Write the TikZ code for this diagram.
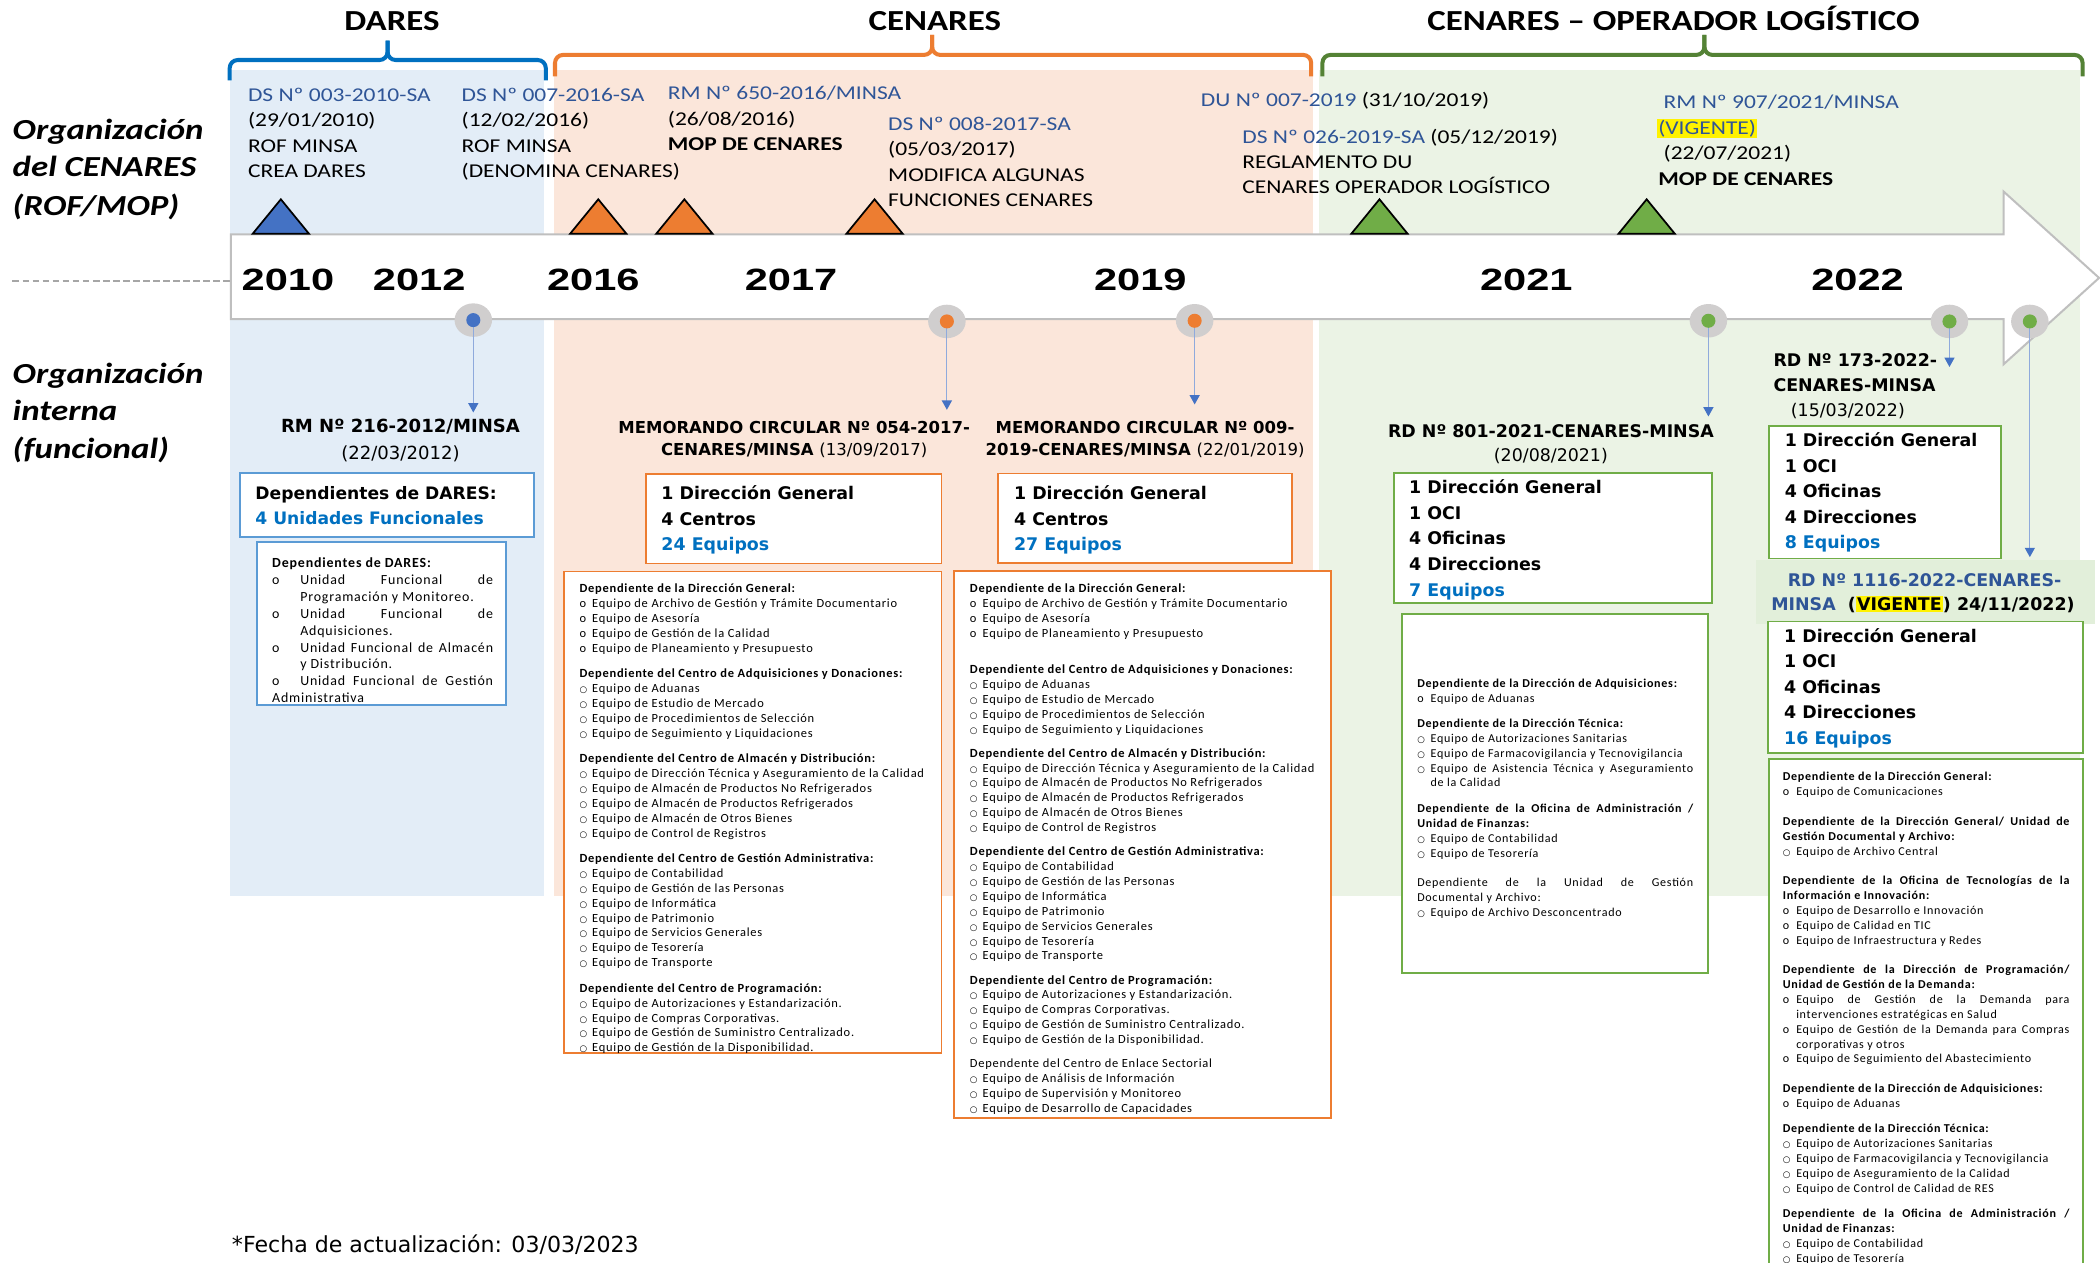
\documentclass[tikz,border=0pt]{standalone}
\usepackage{fontspec}
\setmainfont{Carlito}
\newfontfamily\calf[FakeStretch=1.2]{Carlito}
\newfontfamily\lstf[LetterSpace=6]{Carlito}
\newfontfamily\verd{DejaVu Sans}
\newfontfamily\yrf[FakeStretch=1.35]{Liberation Sans}
\usetikzlibrary{arrows.meta,shapes.geometric}
\definecolor{bluebg}{HTML}{E3EDF7}
\definecolor{orbg}{HTML}{FBE6DA}
\definecolor{grbg}{HTML}{EBF3E5}
\definecolor{grband}{HTML}{E2EFDA}
\definecolor{docblue}{HTML}{2F5597}
\definecolor{eqblue}{HTML}{0070C0}
\definecolor{bxblue}{HTML}{5B9BD5}
\definecolor{myor}{HTML}{ED7D31}
\definecolor{mygr}{HTML}{70AD47}
\definecolor{brgr}{HTML}{548235}
\definecolor{brbl}{HTML}{0070C0}
\definecolor{triblue}{HTML}{4472C4}
\definecolor{tlgray}{HTML}{BFBFBF}
\definecolor{gcirc}{HTML}{D0CECE}
\definecolor{arrline}{HTML}{8FAADC}
\definecolor{dashgray}{HTML}{A6A6A6}
\tolerance=9999 \emergencystretch=20pt \hyphenpenalty=10000 \exhyphenpenalty=10000 \hbadness=10000
\newlength\bulw
\newcommand\hdr[1]{\par\noindent\strut\textbf{#1}}
\newcommand\hdrn[1]{\par\noindent\strut #1}
\newcommand\itm[2]{\par\hangindent=\bulw\hangafter=1\noindent\strut\makebox[\bulw][l]{#1}#2}
\newcommand\gp[1]{\par\vspace{#1}}
\newcommand\bo{o}
\newcommand\bc{{\verd\fontsize{6.5}{6.5}\selectfont\char"25CB}}
\setlength\fboxsep{1pt}
\begin{document}
\begin{tikzpicture}[x=1pt,y=-1pt,
 ttl/.style={font=\calf\bfseries\fontsize{21.7}{24}\selectfont, anchor=base, inner sep=0pt},
 lab/.style={font=\calf\bfseries\itshape\fontsize{21.7}{24}\selectfont, anchor=base west, inner sep=0pt},
 legal/.style={font=\calf\fontsize{14.6}{19}\selectfont, anchor=base west, inner sep=0pt},
 yearlab/.style={font=\yrf\bfseries\fontsize{23}{25}\selectfont, anchor=base, inner sep=0pt},
 rt/.style={font=\verd\bfseries\fontsize{13}{15}\selectfont, anchor=base, inner sep=0pt},
 rtw/.style={font=\verd\bfseries\fontsize{13}{15}\selectfont, anchor=base west, inner sep=0pt},
 bx/.style={font=\verd\bfseries\fontsize{13}{15}\selectfont, anchor=base west, inner sep=0pt},
 lstbox/.style={anchor=north west, inner sep=0pt, align=justify, font=\lstf\fontsize{9}{11.1}\selectfont},
 tri/.style={draw=black, line width=1.3pt, line join=miter},
 gcircle/.style={ellipse, fill=gcirc, minimum width=28pt, minimum height=25pt, inner sep=0pt},
 dotnode/.style={circle, minimum size=10.5pt, inner sep=0pt},
 conn/.style={draw=arrline, line width=0.9pt, -{Triangle[width=7.5pt,length=7pt,color=triblue]}},
 bracepath/.style={line width=3pt, rounded corners=6pt},
 boxframe/.style={fill=white, line width=1.4pt}]
\useasboundingbox (0,0) rectangle (1568,943);
\fill[white] (0,0) rectangle (1568,943);
% backgrounds
\fill[bluebg] (171.8,52.3) rectangle (406,669);
\fill[orbg] (413.5,52.3) rectangle (980.6,669);
\fill[grbg] (985,52.3) rectangle (1553,669);
% braces
\draw[bracepath, brbl] (171.5,60) -- (171.5,44.8) -- (289.4,44.8) -- (289.4,30.4);
\draw[bracepath, brbl] (289.4,30.4) -- (289.4,44.8) -- (407.5,44.8) -- (407.5,60);
\draw[bracepath, myor] (414.4,57) -- (414.4,41) -- (696,41) -- (696,26);
\draw[bracepath, myor] (696,26) -- (696,41) -- (979,41) -- (979,57);
\draw[bracepath, brgr] (987.4,57) -- (987.4,41) -- (1272.6,41) -- (1272.6,26);
\draw[bracepath, brgr] (1272.6,26) -- (1272.6,41) -- (1555,41) -- (1555,57);
\node[ttl] (tdares) at (292.7,22.8) {DARES};
\node[ttl] (tcenares) at (698,22.8) {CENARES};
\node[ttl] (tcol) at (1249.5,22.8) {CENARES – OPERADOR LOGÍSTICO};
% left labels
\node[lab] (la1) at (9.3,104) {Organización};
\node[lab] (la2) at (9.3,132) {del CENARES};
\node[lab] (la3) at (9.3,161) {(ROF/MOP)};
\node[lab] (lb1) at (9.3,286) {Organización};
\node[lab] (lb2) at (9.3,314) {interna};
\node[lab] (lb3) at (9.3,342) {(funcional)};
% dashed line
\coordinate (ds0) at (9.3,210);
\coordinate (ds1) at (172.4,210);
\draw[dashgray, line width=1.3pt, dash pattern=on 5pt off 2.5pt] (ds0) -- (ds1);
% timeline arrow
\draw[tlgray, fill=white, line width=1.5pt] (172.4,175) -- (1496,175) -- (1496,143) -- (1567.3,207.5) -- (1496,272) -- (1496,238.3) -- (172.4,238.3) -- cycle;
% triangles
\draw[tri, fill=triblue] (188.7,174.5) -- (230.7,174.5) -- (209.7,148.8) -- cycle;
\draw[tri, fill=myor] (425.7,174.5) -- (467.7,174.5) -- (446.7,148.8) -- cycle;
\draw[tri, fill=myor] (490,174.5) -- (532,174.5) -- (511,148.8) -- cycle;
\draw[tri, fill=myor] (632,174.5) -- (674,174.5) -- (653,148.8) -- cycle;
\draw[tri, fill=mygr] (1009,174.5) -- (1051,174.5) -- (1030,148.8) -- cycle;
\draw[tri, fill=mygr] (1208.5,174.5) -- (1250.5,174.5) -- (1229.5,148.8) -- cycle;
% years
\node[yearlab] (y2010) at (215,217.2) {2010};
\node[yearlab] (y2012) at (313,217.2) {2012};
\node[yearlab] (y2016) at (443,217.2) {2016};
\node[yearlab] (y2017) at (590.7,217.2) {2017};
\node[yearlab] (y2019) at (851.4,217.2) {2019};
\node[yearlab] (y2021) at (1139.6,217.2) {2021};
\node[yearlab] (y2022) at (1387,217.2) {2022};
% circles and connectors
\node[gcircle] (c1) at (353.4,239) {};
\node[gcircle] (c2) at (707,240) {};
\node[gcircle] (c3) at (892,239.5) {};
\node[gcircle] (c4) at (1275.6,239.5) {};
\node[gcircle] (c5) at (1455.6,240) {};
\node[gcircle] (c6) at (1515.6,240) {};
\coordinate (e1) at (353.4,308);
\coordinate (e2) at (707,306);
\coordinate (e3) at (892,302);
\coordinate (e4) at (1275.6,311);
\coordinate (e5) at (1455.6,274);
\coordinate (e6) at (1515.6,416);
\draw[conn] (c1.center) -- (e1);
\draw[conn] (c2.center) -- (e2);
\draw[conn] (c3.center) -- (e3);
\draw[conn] (c4.center) -- (e4);
\draw[conn] (c5.center) -- (e5);
\draw[conn] (c6.center) -- (e6);
\node[dotnode, fill=triblue] (d1) at (c1.center) {};
\node[dotnode, fill=myor] (d2) at (c2.center) {};
\node[dotnode, fill=myor] (d3) at (c3.center) {};
\node[dotnode, fill=mygr] (d4) at (c4.center) {};
\node[dotnode, fill=mygr] (d5) at (c5.center) {};
\node[dotnode, fill=mygr] (d6) at (c6.center) {};
% top legal texts
\node[legal, text=docblue] (l1a) at (185,75.8) {DS Nº 003-2010-SA};
\node[legal] (l1b) at (185,94.8) {(29/01/2010)};
\node[legal] (l1c) at (185,113.8) {ROF MINSA};
\node[legal] (l1d) at (185,132.8) {CREA DARES};
\node[legal, text=docblue] (l2a) at (344.5,75.8) {DS Nº 007-2016-SA};
\node[legal] (l2b) at (344.5,94.8) {(12/02/2016)};
\node[legal] (l2c) at (344.5,113.8) {ROF MINSA};
\node[legal] (l2d) at (344.5,132.8) {(DENOMINA CENARES)};
\node[legal, text=docblue] (l3a) at (498.5,74.5) {RM Nº 650-2016/MINSA};
\node[legal] (l3b) at (498.5,93.5) {(26/08/2016)};
\node[legal, font=\calf\bfseries\fontsize{14.6}{19}\selectfont] (l3c) at (498.5,112.5) {MOP DE CENARES};
\node[legal, text=docblue] (l4a) at (663,97.4) {DS Nº 008-2017-SA};
\node[legal] (l4b) at (663,116.4) {(05/03/2017)};
\node[legal] (l4c) at (663,135.4) {MODIFICA ALGUNAS};
\node[legal] (l4d) at (663,154.4) {FUNCIONES CENARES};
\node[legal] (l5a) at (896.5,79.5) {\textcolor{docblue}{DU Nº 007-2019} (31/10/2019)};
\node[legal] (l6a) at (927.5,106.8) {\textcolor{docblue}{DS Nº 026-2019-SA} (05/12/2019)};
\node[legal] (l6b) at (927.5,125.8) {REGLAMENTO DU};
\node[legal] (l6c) at (927.5,144.8) {CENARES OPERADOR LOGÍSTICO};
\node[legal, text=docblue] (l7a) at (1242,80.8) {RM Nº 907/2021/MINSA};
\node[legal, text=docblue] (l7b) at (1237,100.2) {\colorbox{yellow}{(VIGENTE)}};
\node[legal] (l7c) at (1242,119.3) {(22/07/2021)};
\node[legal, font=\calf\bfseries\fontsize{14.6}{19}\selectfont] (l7d) at (1238,138.5) {MOP DE CENARES};
% lower titles
\node[rt, font=\verd\bfseries\fontsize{13.5}{15}\selectfont] (rm216) at (299,322.9) {RM Nº 216-2012/MINSA};
\node[rt, font=\verd\fontsize{13.5}{15}\selectfont] (rm216d) at (299,342.9) {(22/03/2012)};
\node[rt, font=\verd\bfseries\fontsize{12.3}{15}\selectfont] (mc1a) at (593,323.4) {MEMORANDO CIRCULAR Nº 054-2017-};
\node[rt, font=\verd\bfseries\fontsize{12.3}{15}\selectfont] (mc1b) at (593,340.4) {CENARES/MINSA {\mdseries (13/09/2017)}};
\node[rt, font=\verd\bfseries\fontsize{12.3}{15}\selectfont] (mc2a) at (855,323.4) {MEMORANDO CIRCULAR Nº 009-};
\node[rt, font=\verd\bfseries\fontsize{12.3}{15}\selectfont] (mc2b) at (855,340.4) {2019-CENARES/MINSA {\mdseries (22/01/2019)}};
\node[rt] (rd801) at (1158,326.7) {RD Nº 801-2021-CENARES-MINSA};
\node[rt, font=\verd\fontsize{13}{15}\selectfont] (rd801d) at (1158,344.7) {(20/08/2021)};
\node[rtw] (rd173a) at (1324,273.7) {RD Nº 173-2022-};
\node[rtw] (rd173b) at (1324,292.2) {CENARES-MINSA};
\node[rtw, font=\verd\fontsize{13}{15}\selectfont] (rd173c) at (1337,310.7) {(15/03/2022)};
% band
\fill[grband] (1311,418) rectangle (1564,466);
\node[rt, text=docblue] (rd1116a) at (1437,437.7) {RD Nº 1116-2022-CENARES-};
\node[rtw] (rd1116b) at (1322.4,455.7) {\textcolor{docblue}{MINSA}~~(\colorbox{yellow}{VIGENTE}) 24/11/2022)};
% summary boxes
\draw[boxframe, draw=bxblue] (179,353) rectangle (399,401);
\node[bx, font=\verd\bfseries\fontsize{12.8}{15}\selectfont] (sa1) at (190.5,372.7) {Dependientes de DARES:};
\node[bx, font=\verd\bfseries\fontsize{12.8}{15}\selectfont, text=eqblue] (sa2) at (190.5,391.7) {4 Unidades Funcionales};
\draw[boxframe, draw=myor] (482.5,353.8) rectangle (703,420.7);
\node[bx] (sb1) at (493.7,373.2) {1 Dirección General};
\node[bx] (sb2) at (493.7,392.3) {4 Centros};
\node[bx, text=eqblue] (sb3) at (493.7,411.1) {24 Equipos};
\draw[boxframe, draw=myor] (745,353.5) rectangle (965,420.5);
\node[bx] (sc1) at (757,373.2) {1 Dirección General};
\node[bx] (sc2) at (757,392.3) {4 Centros};
\node[bx, text=eqblue] (sc3) at (757,411.1) {27 Equipos};
\draw[boxframe, draw=mygr] (1041,353) rectangle (1278,450);
\node[bx] (sd1) at (1052,368.4) {1 Dirección General};
\node[bx] (sd2) at (1052,387.6) {1 OCI};
\node[bx] (sd3) at (1052,406.8) {4 Oficinas};
\node[bx] (sd4) at (1052,426) {4 Direcciones};
\node[bx, text=eqblue] (sd5) at (1052,445.2) {7 Equipos};
\draw[boxframe, draw=mygr] (1321,318) rectangle (1494,417);
\node[bx] (se1) at (1332.4,333.7) {1 Dirección General};
\node[bx] (se2) at (1332.4,352.7) {1 OCI};
\node[bx] (se3) at (1332.4,371.7) {4 Oficinas};
\node[bx] (se4) at (1332.4,390.7) {4 Direcciones};
\node[bx, text=eqblue] (se5) at (1332.4,409.7) {8 Equipos};
\draw[boxframe, draw=mygr] (1320,464) rectangle (1555,562);
\node[bx] (sf1) at (1332,479.7) {1 Dirección General};
\node[bx] (sf2) at (1332,498.7) {1 OCI};
\node[bx] (sf3) at (1332,517.7) {4 Oficinas};
\node[bx] (sf4) at (1332,536.7) {4 Direcciones};
\node[bx, text=eqblue] (sf5) at (1332,555.7) {16 Equipos};
% detail boxes
\draw[boxframe, draw=bxblue] (191.7,404.5) rectangle (378,526.5);
\node[lstbox, text width=165pt, font=\lstf\fontsize{10.4}{12.6}\selectfont] (la) at (203,411.1) {\setlength\bulw{21pt}%
\hdr{Dependientes de DARES:}
\itm\bo{Unidad Funcional de\linebreak Programación y Monitoreo.}
\itm\bo{Unidad Funcional de\linebreak Adquisiciones.}
\itm\bo{Unidad Funcional de Almacén\linebreak y Distribución.}
\itm\bo{Unidad Funcional de Gestión\linebreak Administrativa}};
\draw[boxframe, draw=myor] (421,426.7) rectangle (703,786);
\node[lstbox, text width=262pt, font=\lstf\fontsize{9.3}{11.1}\selectfont] (lbx) at (432.5,431.2) {\setlength\bulw{9.5pt}%
\hdr{Dependiente de la Dirección General:}
\itm\bo{Equipo de Archivo de Gestión y Trámite Documentario}
\itm\bo{Equipo de Asesoría}
\itm\bo{Equipo de Gestión de la Calidad}
\itm\bo{Equipo de Planeamiento y Presupuesto}
\gp{8pt}
\hdr{Dependiente del Centro de Adquisiciones y Donaciones:}
\itm\bc{Equipo de Aduanas}
\itm\bc{Equipo de Estudio de Mercado}
\itm\bc{Equipo de Procedimientos de Selección}
\itm\bc{Equipo de Seguimiento y Liquidaciones}
\gp{8pt}
\hdr{Dependiente del Centro de Almacén y Distribución:}
\itm\bc{Equipo de Dirección Técnica y Aseguramiento de la Calidad}
\itm\bc{Equipo de Almacén de Productos No Refrigerados}
\itm\bc{Equipo de Almacén de Productos Refrigerados}
\itm\bc{Equipo de Almacén de Otros Bienes}
\itm\bc{Equipo de Control de Registros}
\gp{8pt}
\hdr{Dependiente del Centro de Gestión Administrativa:}
\itm\bc{Equipo de Contabilidad}
\itm\bc{Equipo de Gestión de las Personas}
\itm\bc{Equipo de Informática}
\itm\bc{Equipo de Patrimonio}
\itm\bc{Equipo de Servicios Generales}
\itm\bc{Equipo de Tesorería}
\itm\bc{Equipo de Transporte}
\gp{8pt}
\hdr{Dependiente del Centro de Programación:}
\itm\bc{Equipo de Autorizaciones y Estandarización.}
\itm\bc{Equipo de Compras Corporativas.}
\itm\bc{Equipo de Gestión de Suministro Centralizado.}
\itm\bc{Equipo de Gestión de la Disponibilidad.}};
\draw[boxframe, draw=myor] (712.5,426.5) rectangle (994,835);
\node[lstbox, text width=262pt, font=\lstf\fontsize{9.3}{11.1}\selectfont] (lcx) at (724,431.2) {\setlength\bulw{9.5pt}%
\hdr{Dependiente de la Dirección General:}
\itm\bo{Equipo de Archivo de Gestión y Trámite Documentario}
\itm\bo{Equipo de Asesoría}
\itm\bo{Equipo de Planeamiento y Presupuesto}
\gp{16pt}
\hdr{Dependiente del Centro de Adquisiciones y Donaciones:}
\itm\bc{Equipo de Aduanas}
\itm\bc{Equipo de Estudio de Mercado}
\itm\bc{Equipo de Procedimientos de Selección}
\itm\bc{Equipo de Seguimiento y Liquidaciones}
\gp{7pt}
\hdr{Dependiente del Centro de Almacén y Distribución:}
\itm\bc{Equipo de Dirección Técnica y Aseguramiento de la Calidad}
\itm\bc{Equipo de Almacén de Productos No Refrigerados}
\itm\bc{Equipo de Almacén de Productos Refrigerados}
\itm\bc{Equipo de Almacén de Otros Bienes}
\itm\bc{Equipo de Control de Registros}
\gp{7pt}
\hdr{Dependiente del Centro de Gestión Administrativa:}
\itm\bc{Equipo de Contabilidad}
\itm\bc{Equipo de Gestión de las Personas}
\itm\bc{Equipo de Informática}
\itm\bc{Equipo de Patrimonio}
\itm\bc{Equipo de Servicios Generales}
\itm\bc{Equipo de Tesorería}
\itm\bc{Equipo de Transporte}
\gp{7pt}
\hdr{Dependiente del Centro de Programación:}
\itm\bc{Equipo de Autorizaciones y Estandarización.}
\itm\bc{Equipo de Compras Corporativas.}
\itm\bc{Equipo de Gestión de Suministro Centralizado.}
\itm\bc{Equipo de Gestión de la Disponibilidad.}
\gp{7pt}
\hdrn{Dependente del Centro de Enlace Sectorial}
\itm\bc{Equipo de Análisis de Información}
\itm\bc{Equipo de Supervisión y Monitoreo}
\itm\bc{Equipo de Desarrollo de Capacidades}};
\draw[boxframe, draw=mygr] (1047,458.6) rectangle (1275,726.7);
\node[lstbox, text width=206pt] (ldx) at (1058,502.2) {\setlength\bulw{10pt}%
\hdr{Dependiente de la Dirección de Adquisiciones:}
\itm\bo{Equipo de Aduanas}
\gp{7.5pt}
\hdr{Dependiente de la Dirección Técnica:}
\itm\bc{Equipo de Autorizaciones Sanitarias}
\itm\bc{Equipo de Farmacovigilancia y Tecnovigilancia}
\itm\bc{Equipo de Asistencia Técnica y Aseguramiento\linebreak de la Calidad}
\gp{8pt}
\hdr{Dependiente de la Oficina de Administración /\linebreak Unidad de Finanzas:}
\itm\bc{Equipo de Contabilidad}
\itm\bc{Equipo de Tesorería}
\gp{11pt}
\hdrn{Dependiente de la Unidad de Gestión\linebreak Documental y Archivo:}
\itm\bc{Equipo de Archivo Desconcentrado}};
\draw[boxframe, draw=mygr] (1320.6,567) rectangle (1555,960);
\node[lstbox, text width=214pt] (lex) at (1331,571.7) {\setlength\bulw{10pt}%
\hdr{Dependiente de la Dirección General:}
\itm\bo{Equipo de Comunicaciones}
\gp{11pt}
\hdr{Dependiente de la Dirección General/ Unidad de\linebreak Gestión Documental y Archivo:}
\itm\bc{Equipo de Archivo Central}
\gp{11pt}
\hdr{Dependiente de la Oficina de Tecnologías de la\linebreak Información e Innovación:}
\itm\bo{Equipo de Desarrollo e Innovación}
\itm\bo{Equipo de Calidad en TIC}
\itm\bo{Equipo de Infraestructura y Redes}
\gp{11pt}
\hdr{Dependiente de la Dirección de Programación/\linebreak Unidad de Gestión de la Demanda:}
\itm\bo{Equipo de Gestión de la Demanda para\linebreak intervenciones estratégicas en Salud}
\itm\bo{Equipo de Gestión de la Demanda para Compras\linebreak corporativas y otros}
\itm\bo{Equipo de Seguimiento del Abastecimiento}
\gp{11pt}
\hdr{Dependiente de la Dirección de Adquisiciones:}
\itm\bo{Equipo de Aduanas}
\gp{8pt}
\hdr{Dependiente de la Dirección Técnica:}
\itm\bc{Equipo de Autorizaciones Sanitarias}
\itm\bc{Equipo de Farmacovigilancia y Tecnovigilancia}
\itm\bc{Equipo de Aseguramiento de la Calidad}
\itm\bc{Equipo de Control de Calidad de RES}
\gp{8pt}
\hdr{Dependiente de la Oficina de Administración /\linebreak Unidad de Finanzas:}
\itm\bc{Equipo de Contabilidad}
\itm\bc{Equipo de Tesorería}};
% footnote
\node[font=\verd\fontsize{16.5}{18}\selectfont, anchor=base west, inner sep=0pt] (fecha) at (173,935.5) {*Fecha de actualización: 03/03/2023};
\end{tikzpicture}
\end{document}
